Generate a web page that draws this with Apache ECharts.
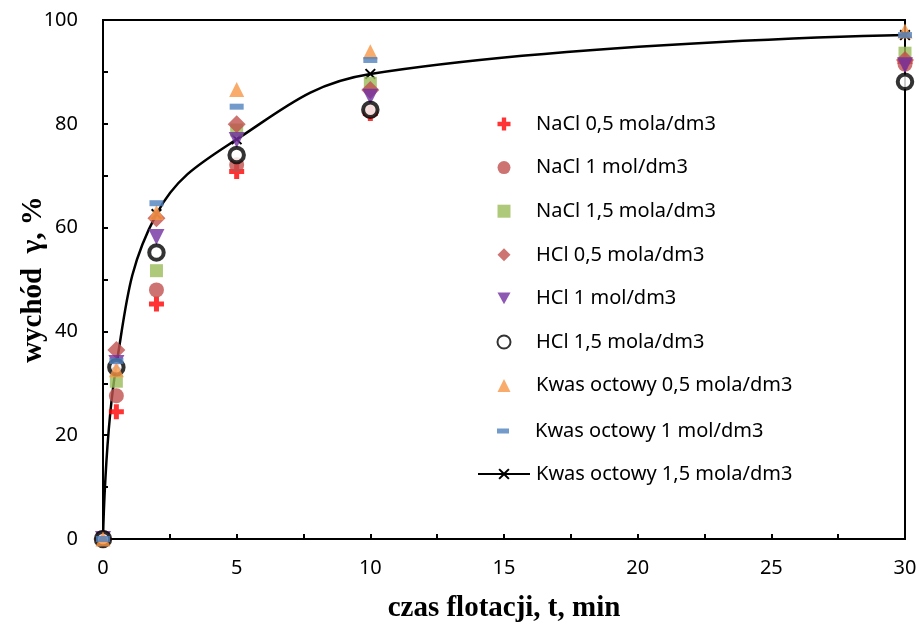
<!DOCTYPE html>
<html>
<head>
<meta charset="utf-8">
<script src="https://cdn.jsdelivr.net/npm/echarts@6/dist/echarts.min.js"></script>
<style>
  html, body { margin: 0; padding: 0; background: #fff; }
  #chart { width: 919px; height: 625px; }
</style>
</head>
<body>
<div id="chart"></div>
<script>
// czas flotacji, min
var times = [0, 0.5, 2, 5, 10, 30]

// wychód, %
var naCl05 = [0, 24.5, 45.3, 70.8, 82.0, 92.0]
var naCl1 = [0, 27.6, 48.0, 72.1, 82.4, 91.5]
var naCl15 = [0, 30.4, 51.7, 78.8, 87.8, 93.6]
var hCl05 = [0, 36.4, 61.8, 79.9, 86.5, 92.3]
var hCl1 = [0, 33.9, 58.2, 76.9, 85.2, 91.3]
var hCl15 = [0, 33.1, 55.2, 74.0, 82.7, 88.1]
var kwas05 = [0, 32.6, 62.9, 86.6, 93.9, 97.9]
var kwas1 = [0, 34.3, 64.7, 83.3, 92.3, 97.1]
var kwas15 = [0, 33.5, 62.6, 77.0, 89.6, 97.1]

var names = [
    'NaCl 0,5 mola/dm3',
    'NaCl 1 mol/dm3',
    'NaCl 1,5 mola/dm3',
    'HCl 0,5 mola/dm3',
    'HCl 1 mol/dm3',
    'HCl 1,5 mola/dm3',
    'Kwas octowy 0,5 mola/dm3',
    'Kwas octowy 1 mol/dm3',
    'Kwas octowy 1,5 mola/dm3'
]

var plusPath = 'path://M3,0H6V3H9V6H6V9H3V6H0V3H3Z'
var crossPath = 'path://M1,0L4,3L7,0L8,1L5,4L8,7L7,8L4,5L1,8L0,7L3,4L0,1Z'
var downTriangle = 'path://M0,0H10L5,9Z'

function pairs(ys) {
    return times.map(function (t, i) { return [t, ys[i]] })
}

function scatter(name, ys, symbol, size, color, extra) {
    var s = {
        name: name,
        type: 'scatter',
        data: pairs(ys),
        symbol: symbol,
        symbolSize: size,
        itemStyle: { color: color },
        z: 3
    }
    if (extra) Object.assign(s, extra)
    return s
}

var legendText = { fontSize: 20, lineHeight: 20, color: '#000', fontFamily: 'Noto Sans' }

function legendBox(data, left, top, w, h, padLeft) {
    return {
        orient: 'vertical',
        left: left,
        top: top,
        padding: 0,
        itemGap: 23.6,
        itemWidth: w,
        itemHeight: h,
        selectedMode: false,
        textStyle: Object.assign({ padding: [0, 0, 0, padLeft] }, legendText),
        data: data
    }
}

// trójkąt w dół w legendzie
var legendTop = names.slice(0, 7).map(function (n) { return { name: n } })
legendTop[4].icon = downTriangle

var chart = echarts.init(document.getElementById('chart'))

var option = {
    animation: false,
    textStyle: { fontFamily: 'Noto Sans' },
    grid: {
        left: 103, right: 14, top: 20, bottom: 86,
        outerBoundsMode: 'none',
        containLabel: false,
        show: true, borderColor: '#000', borderWidth: 2
    },
    legend: [
        legendBox(legendTop, 496.5, 114, 13, 13, 20.5),
        legendBox([names[7]], 497, 421, 12, 5, 21),
        legendBox([names[8]], 477, 464, 52, 14, 1)
    ],
    xAxis: {
        type: 'value',
        min: 0, max: 30, interval: 5,
        axisLine: { lineStyle: { color: '#000', width: 2 } },
        axisTick: { inside: true, length: 5, lineStyle: { color: '#000', width: 2 } },
        minorTick: { show: true, splitNumber: 2, length: 5, lineStyle: { color: '#000', width: 2 } },
        splitLine: { show: false },
        axisLabel: { color: '#000', fontSize: 20, margin: 19 },
        name: 'czas flotacji, t, min',
        nameLocation: 'middle',
        nameGap: 55,
        nameMoveOverlap: false,
        nameTextStyle: { fontFamily: 'Liberation Serif', fontWeight: 'bold', fontSize: 29, color: '#000' }
    },
    yAxis: {
        type: 'value',
        min: 0, max: 100, interval: 20,
        axisLine: { lineStyle: { color: '#000', width: 2 } },
        axisTick: { inside: true, length: 5, lineStyle: { color: '#000', width: 2 } },
        minorTick: { show: true, splitNumber: 2, length: 5, lineStyle: { color: '#000', width: 2 } },
        splitLine: { show: false },
        axisLabel: { color: '#000', fontSize: 20, margin: 25 },
        name: 'wychód  γ, %',
        nameLocation: 'middle',
        nameGap: 55,
        nameMoveOverlap: false,
        nameTextStyle: { fontFamily: 'Liberation Serif', fontWeight: 'bold', fontSize: 29, color: '#000' }
    },
    series: [
        scatter(names[0], naCl05, plusPath, 15, '#FF0000'),
        scatter(names[1], naCl1, 'circle', 15, '#C0504D'),
        scatter(names[2], naCl15, 'rect', 13, '#9BBB59'),
        scatter(names[3], hCl05, 'diamond', 18, '#C0504D'),
        scatter(names[4], hCl1, 'triangle', 16, '#7030A0', { symbolRotate: 180 }),
        scatter(names[5], hCl15, 'circle', 14.5, '#fff', {
            itemStyle: { color: '#fff', borderColor: '#000', borderWidth: 4 }
        }),
        scatter(names[6], kwas05, 'triangle', 15, '#F79646'),
        scatter(names[7], kwas1, 'rect', [14, 6], '#4F81BD'),
        {
            name: names[8],
            type: 'line',
            data: pairs(kwas15),
            smooth: 0.4,
            symbol: crossPath,
            symbolSize: 11,
            showAllSymbol: true,
            lineStyle: { color: '#000', width: 2.5 },
            itemStyle: { color: '#000' },
            z: 2
        }
    ]
}

chart.setOption(option)
</script>
</body>
</html>
